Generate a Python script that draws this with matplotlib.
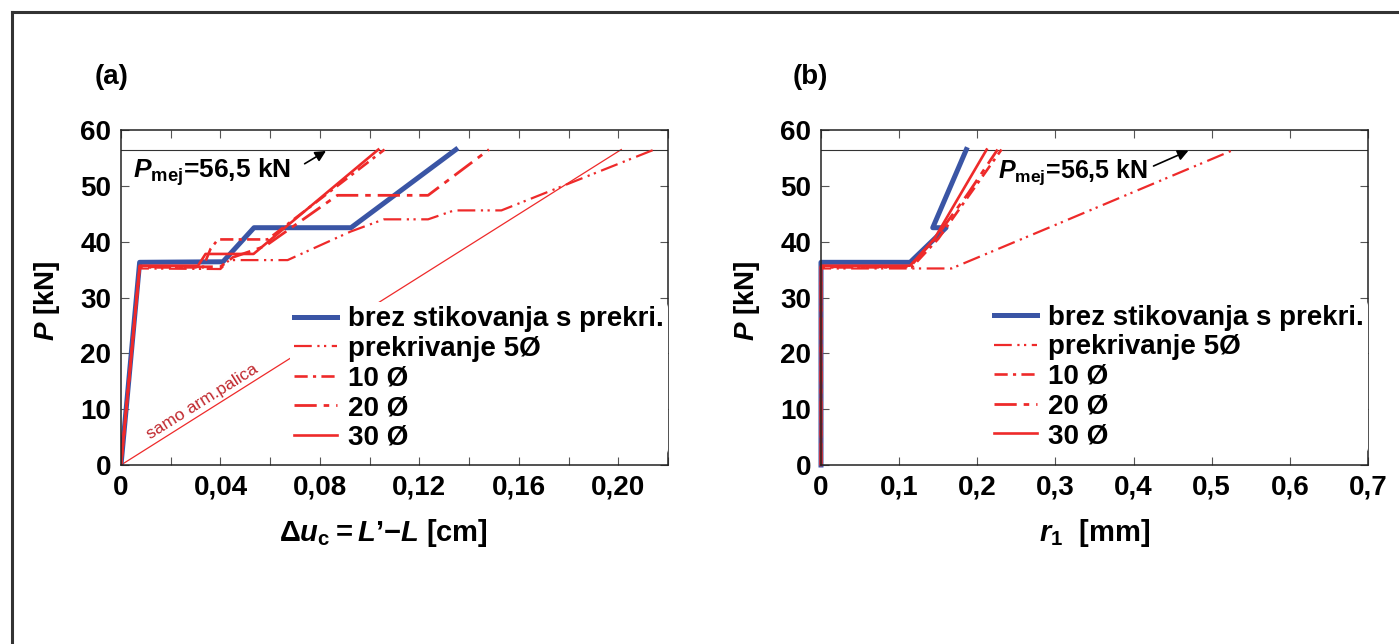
import matplotlib

matplotlib.use("Agg")
import matplotlib.pyplot as plt
from matplotlib.lines import Line2D
import numpy as np

plt.rcParams["font.family"] = ["Liberation Sans", "DejaVu Sans"]
plt.rcParams["font.weight"] = "bold"
plt.rcParams["axes.labelweight"] = "bold"
plt.rcParams["mathtext.fontset"] = "custom"
plt.rcParams["mathtext.rm"] = "Liberation Sans:bold"
plt.rcParams["mathtext.it"] = "Liberation Sans:italic:bold"
plt.rcParams["mathtext.bf"] = "Liberation Sans:bold"

BLUE = "#3a55a5"
RED = "#ee2a2a"
P_MEJ = 56.5

# --- panel (a): P vs. delta u_c [cm] ---
A_BREZ_X = [0, 0.0075, 0.041, 0.0535, 0.0925, 0.1347]
A_BREZ_Y = [0, 36.3, 36.4, 42.5, 42.5, 56.5]
A_5_X = [0, 0.0075, 0.040, 0.0435, 0.067, 0.0923, 0.1057, 0.1235, 0.134, 0.153, 0.2145]
A_5_Y = [0, 35.2, 35.1, 36.7, 36.7, 41.8, 44.0, 44.0, 45.6, 45.6, 56.5]
A_10_X = [0, 0.0075, 0.033, 0.036, 0.039, 0.059, 0.106]
A_10_Y = [0, 35.4, 35.4, 38.7, 40.4, 40.4, 56.5]
A_20_X = [0, 0.0075, 0.040, 0.045, 0.058, 0.087, 0.1235, 0.148]
A_20_Y = [0, 35.5, 35.5, 37.2, 39.2, 48.3, 48.3, 56.5]
A_30_X = [0, 0.0075, 0.031, 0.034, 0.0533, 0.1035]
A_30_Y = [0, 35.7, 35.7, 37.8, 37.8, 56.5]
A_BAR_X = [0, 0.2012]  # samo arm. palica
A_BAR_Y = [0, 56.5]

# --- panel (b): P vs. r1 [mm] ---
B_BREZ_X = [0, 0, 0.114, 0.160, 0.143, 0.186]
B_BREZ_Y = [0, 36.3, 36.3, 42.5, 42.5, 56.5]
B_5_X = [0, 0, 0.167, 0.300, 0.529]
B_5_Y = [0, 35.2, 35.2, 43.0, 56.5]
B_10_X = [0, 0, 0.116, 0.150, 0.231]
B_10_Y = [0, 35.4, 35.4, 40.5, 56.5]
B_20_X = [0, 0, 0.114, 0.146, 0.185, 0.189, 0.226]
B_20_Y = [0, 35.5, 35.5, 40.6, 48.0, 48.8, 56.5]
B_30_X = [0, 0, 0.114, 0.145, 0.212]
B_30_Y = [0, 35.7, 35.7, 40.5, 56.5]

LABELS = ["brez stikovanja s prekri.", "prekrivanje 5Ø", "10 Ø", "20 Ø", "30 Ø"]
STYLES = [
    dict(color=BLUE, lw=3.6, ls="-"),
    dict(color=RED, lw=1.6, ls=(0, (8, 2.5, 1, 2, 1, 2.5))),
    dict(color=RED, lw=1.9, ls=(0, (5, 2, 1.2, 2))),
    dict(color=RED, lw=2.0, ls=(0, (8, 2.5, 2, 2.5))),
    dict(color=RED, lw=1.9, ls="-"),
]

fig = plt.figure(figsize=(13.99, 6.44), dpi=100)
axA = fig.add_axes([121 / 1399, 1 - 465 / 644, 547 / 1399, 335 / 644])
axB = fig.add_axes([821 / 1399, 1 - 465 / 644, 547 / 1399, 335 / 644])


def style_axes(ax, xmax, step, labels):
    ax.set_xlim(0, xmax)
    ax.set_ylim(0, 60)
    ticks = np.arange(0, xmax + step / 2, step)
    ax.set_xticks(ticks)
    ax.set_xticklabels(labels)
    ax.set_yticks(np.arange(0, 61, 10))
    ax.tick_params(direction="in", top=True, right=True, length=6, width=0.8,
                   labelsize=20, pad=7, color="#555555")
    for sp in ax.spines.values():
        sp.set_linewidth(1.1)
        sp.set_color("#222222")
    ax.axhline(P_MEJ, color="#333333", lw=0.8)
    ax.set_ylabel(r"$\mathit{P}$ [kN]", fontsize=20)
    ax.yaxis.set_label_coords(-0.107, 0.49)


labA = ["0", "", "0,04", "", "0,08", "", "0,12", "", "0,16", "", "0,20", ""]
style_axes(axA, 0.22, 0.02, labA)
labB = ["0", "0,1", "0,2", "0,3", "0,4", "0,5", "0,6", "0,7"]
style_axes(axB, 0.7, 0.1, labB)

# panel (a) curves
axA.plot(A_BAR_X, A_BAR_Y, color=RED, lw=0.9, zorder=1)
seriesA = [(A_BREZ_X, A_BREZ_Y), (A_5_X, A_5_Y), (A_10_X, A_10_Y),
           (A_20_X, A_20_Y), (A_30_X, A_30_Y)]
for (xs, ys), st, lab in zip(seriesA, STYLES, LABELS):
    axA.plot(xs, ys, label=lab, **st)
axA.text(0.0118, 4.6, "samo arm.palica", color="#c0272d", fontsize=12.5,
         fontweight="normal", rotation=32, rotation_mode="anchor")

# panel (b) curves
seriesB = [(B_BREZ_X, B_BREZ_Y), (B_5_X, B_5_Y), (B_10_X, B_10_Y),
           (B_20_X, B_20_Y), (B_30_X, B_30_Y)]
for (xs, ys), st, lab in zip(seriesB, STYLES, LABELS):
    axB.plot(xs, ys, label=lab, clip_on=False, **st)

leg_kw = dict(prop=dict(size=20, weight="bold"), frameon=True, facecolor="white",
              edgecolor="none", framealpha=1, handlelength=1.55, handletextpad=0.4,
              labelspacing=0.13, borderpad=0.15, borderaxespad=0)
axA.legend(loc="lower right", bbox_to_anchor=(1.0, 0.03), **leg_kw)
axB.legend(loc="lower right", bbox_to_anchor=(1.0, 0.035), **leg_kw)

# P_mej annotations
pm = r"$\mathit{P}_{\mathrm{mej}}$=56,5 kN"
axA.annotate("", xy=(0.0834, P_MEJ), xytext=(0.0729, 53.7),
             arrowprops=dict(arrowstyle="-|>", color="black", lw=1.2, mutation_scale=16))
axA.text(0.005, 52.5, pm, fontsize=19, va="center")
axB.annotate("", xy=(0.4735, P_MEJ), xytext=(0.4223, 53.35),
             arrowprops=dict(arrowstyle="-|>", color="black", lw=1.2, mutation_scale=16))
axB.text(0.226, 52.5, pm, fontsize=18, va="center")

axA.set_xlabel(r"$\Delta \mathit{u}_{\mathrm{c}}=\mathit{L}$’$-\mathit{L}$ [cm]", fontsize=21)
axA.xaxis.set_label_coords(0.48, -0.155)
axB.set_xlabel(r"$\mathit{r}_{1}$  [mm]", fontsize=21)
axB.xaxis.set_label_coords(0.5, -0.155)

fig.text(95 / 1399, 1 - 77 / 644, "(a)", fontsize=20, va="center")
fig.text(793 / 1399, 1 - 77 / 644, "(b)", fontsize=20, va="center")

# outer frame (top + left edge)
fig.add_artist(Line2D([11.5 / 1399, 11.5 / 1399], [0, 1 - 12 / 644], color="#333333", lw=2.2))
fig.add_artist(Line2D([11.5 / 1399, 1], [1 - 12 / 644, 1 - 12 / 644], color="#333333", lw=2.2))

fig.savefig("out.png", dpi=100)
